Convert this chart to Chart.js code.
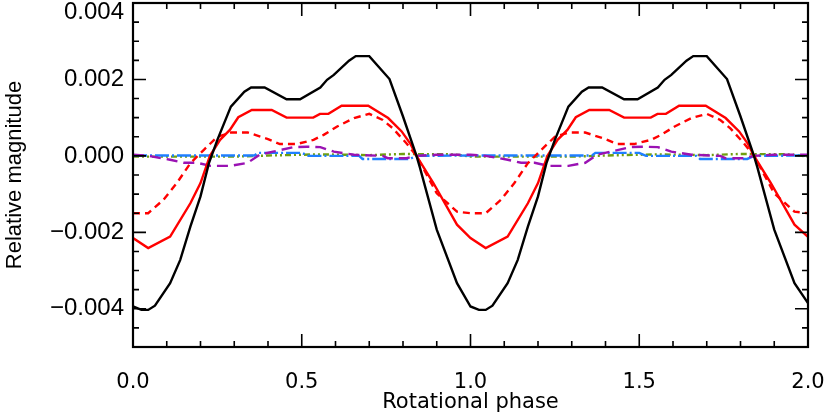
<!DOCTYPE html>
<html>
<head>
<meta charset="utf-8">
<script src="https://cdn.jsdelivr.net/npm/chart.js@4.4.1/dist/chart.umd.min.js"></script>
<style>
html, body { margin: 0; padding: 0; background: #fff; }
#wrap { width: 830px; height: 415px; }
</style>
</head>
<body>
<div id="wrap"><canvas id="light-curve"></canvas></div>
<script>
// Light curve data (phase, relative magnitude)
var blackPhase = [0, 0.025, 0.045, 0.065, 0.11, 0.14, 0.17, 0.2, 0.225, 0.25, 0.29, 0.33, 0.35, 0.39, 0.455, 0.495, 0.555, 0.575, 0.595, 0.64, 0.66, 0.7, 0.76, 0.8, 0.84, 0.85, 0.9, 0.96,
    1.0, 1.025, 1.045, 1.065, 1.11, 1.14, 1.17, 1.2, 1.225, 1.25, 1.29, 1.33, 1.35, 1.39, 1.455, 1.495, 1.555, 1.575, 1.595, 1.64, 1.66, 1.7, 1.76, 1.8, 1.84, 1.85, 1.9, 1.96, 2.0];
var blackMag = [-0.00394, -0.00403, -0.00403, -0.00392, -0.00333, -0.00272, -0.00185, -0.00106, -0.00019, 0.00042, 0.00129, 0.00168, 0.00179, 0.00179, 0.00148, 0.00148, 0.00179, 0.00199, 0.00212, 0.00249, 0.00261, 0.00261, 0.00201, 0.00103, 0.0, -0.0003, -0.00193, -0.00333,
    -0.00394, -0.00403, -0.00403, -0.00392, -0.00333, -0.00272, -0.00185, -0.00106, -0.00019, 0.00042, 0.00129, 0.00168, 0.00179, 0.00179, 0.00148, 0.00148, 0.00179, 0.00199, 0.00212, 0.00249, 0.00261, 0.00261, 0.00201, 0.00103, 0.0, -0.0003, -0.00193, -0.00333, -0.00385];

var redPhase = [0, 0.045, 0.11, 0.17, 0.2, 0.228, 0.258, 0.287, 0.312, 0.352, 0.411, 0.455, 0.534, 0.554, 0.579, 0.618, 0.697, 0.756, 0.796, 0.821, 0.84, 0.89, 0.96,
    1.0, 1.045, 1.11, 1.17, 1.2, 1.228, 1.258, 1.287, 1.312, 1.352, 1.411, 1.455, 1.534, 1.554, 1.579, 1.618, 1.697, 1.756, 1.796, 1.821, 1.84, 1.89, 1.96, 2.0];
var redMag = [-0.00215, -0.00241, -0.00211, -0.00124, -0.00071, 0.0, 0.00042, 0.00068, 0.00101, 0.0012, 0.0012, 0.001, 0.001, 0.0011, 0.0011, 0.00131, 0.00131, 0.00099, 0.00064, 0.00033, 0.0, -0.00071, -0.0018,
    -0.00215, -0.00241, -0.00211, -0.00124, -0.00071, 0.0, 0.00042, 0.00068, 0.00101, 0.0012, 0.0012, 0.001, 0.001, 0.0011, 0.0011, 0.00131, 0.00131, 0.00099, 0.00064, 0.00033, 0.0, -0.00071, -0.0018, -0.00212];

var redDashPhase = [0, 0.045, 0.09, 0.13, 0.17, 0.21, 0.25, 0.29, 0.34, 0.4, 0.435, 0.485, 0.535, 0.565, 0.605, 0.655, 0.7, 0.74, 0.77, 0.81, 0.84, 0.9, 0.96,
    1.0, 1.045, 1.09, 1.13, 1.17, 1.21, 1.25, 1.29, 1.34, 1.4, 1.435, 1.485, 1.535, 1.565, 1.605, 1.655, 1.7, 1.74, 1.77, 1.81, 1.84, 1.9, 1.96, 2.0];
var redDashMag = [-0.0015, -0.0015, -0.00115, -0.00071, -0.00019, 0.00016, 0.0005, 0.00061, 0.00061, 0.00044, 0.00031, 0.00031, 0.00042, 0.00055, 0.00077, 0.00099, 0.0011, 0.00094, 0.00072, 0.00033, 0.0, -0.00098, -0.00146,
    -0.0015, -0.0015, -0.00115, -0.00071, -0.00019, 0.00016, 0.0005, 0.00061, 0.00061, 0.00044, 0.00031, 0.00031, 0.00042, 0.00055, 0.00077, 0.00099, 0.0011, 0.00094, 0.00072, 0.00033, 0.0, -0.00098, -0.00146, -0.0015];

var purplePhase = [0, 0.045, 0.11, 0.15, 0.19, 0.23, 0.29, 0.34, 0.375, 0.415, 0.475, 0.515, 0.555, 0.595, 0.655, 0.74, 0.755, 0.81, 0.84, 0.9,
    1.0, 1.045, 1.11, 1.15, 1.19, 1.23, 1.29, 1.34, 1.375, 1.415, 1.475, 1.515, 1.555, 1.595, 1.655, 1.74, 1.755, 1.81, 1.84, 1.9, 2.0];
var purpleMag = [0.00003, 0.0, -0.0001, -0.00018, -0.00018, -0.00026, -0.00026, -0.00018, 0.00003, 0.00011, 0.00023, 0.00024, 0.00023, 0.00011, 0.00003, 0.0, -0.00006, -0.00006, 0.0, 0.00003,
    0.00003, 0.0, -0.0001, -0.00018, -0.00018, -0.00026, -0.00026, -0.00018, 0.00003, 0.00011, 0.00023, 0.00024, 0.00023, 0.00011, 0.00003, 0.0, -0.00006, -0.00006, 0.0, 0.00003, 0.00003];

var bluePhase = [0, 0.36, 0.37, 0.5, 0.52, 0.67, 0.68, 0.82, 0.84, 1.0, 1.36, 1.37, 1.5, 1.52, 1.67, 1.68, 1.82, 1.84, 2.0];
var blueMag = [0.00001, 0.00001, 0.00008, 0.00008, 0.0, 0.0, -0.00008, -0.00008, 0.0, 0.00001, 0.00001, 0.00008, 0.00008, 0.0, 0.0, -0.00008, -0.00008, 0.0, 0.00001];

var greenPhase = [0, 0.3, 0.4, 0.55, 0.7, 0.8, 0.95, 1.0, 1.3, 1.4, 1.55, 1.7, 1.8, 1.95, 2.0];
var greenMag = [-0.00002, -0.00002, 0.00001, 0.00004, 0.00002, 0.00005, 0.00004, -0.00002, -0.00002, 0.00001, 0.00004, 0.00002, 0.00005, 0.00004, -0.00002];

var yLabelStep = 0.002;
var xLabelStep = 0.5;

function points(phase, mag) {
    return phase.map(function (p, i) {
        return { x: p, y: mag[i] };
    });
}

function isMultiple(v, step) {
    var r = v / step;
    return Math.abs(r - Math.round(r)) < 1e-6;
}

function series(label, phase, mag, color, dash) {
    return {
        label: label,
        data: points(phase, mag),
        borderColor: color,
        borderWidth: 2.4,
        borderDash: dash,
        pointRadius: 0,
        tension: 0,
        fill: false,
    };
}

// frame with inward ticks on all four sides, like the original plot
var frameTicks = {
    id: 'frameTicks',
    afterDraw: function (chart) {
        var ctx = chart.ctx;
        var area = chart.chartArea;
        var xs = chart.scales.x;
        var ys = chart.scales.y;
        ctx.save();
        ctx.strokeStyle = '#000';
        ctx.lineWidth = 1.6;
        ctx.beginPath();
        xs.ticks.forEach(function (t) {
            var px = xs.getPixelForValue(t.value);
            var len = isMultiple(t.value, xLabelStep) ? 13 : 6;
            ctx.moveTo(px, area.bottom);
            ctx.lineTo(px, area.bottom - len);
            ctx.moveTo(px, area.top);
            ctx.lineTo(px, area.top + len);
        });
        ys.ticks.forEach(function (t) {
            var py = ys.getPixelForValue(t.value);
            var len = isMultiple(t.value, yLabelStep) ? 13 : 6;
            ctx.moveTo(area.left, py);
            ctx.lineTo(area.left + len, py);
            ctx.moveTo(area.right, py);
            ctx.lineTo(area.right - len, py);
        });
        ctx.stroke();
        ctx.lineWidth = 2.2;
        ctx.strokeRect(area.left, area.top, area.right - area.left, area.bottom - area.top);
        ctx.restore();
    },
};

var ctx = document.getElementById('light-curve').getContext('2d');
var data = {
    datasets: [
        series('total', blackPhase, blackMag, '#000000', []),
        series('red', redPhase, redMag, '#ff0000', []),
        series('red dashed', redDashPhase, redDashMag, '#ff0000', [7, 5]),
        series('purple', purplePhase, purpleMag, '#9a12b3', [11, 6]),
        series('blue', bluePhase, blueMag, '#1f7fff', [14, 3, 2, 3]),
        series('green', greenPhase, greenMag, '#6f9f0f', [6, 3, 2, 3, 2, 3]),
    ],
};

var options = {
    responsive: true,
    maintainAspectRatio: false,
    animation: false,
    layout: {
        padding: { top: 3, right: 22, left: 0, bottom: 0 },
    },
    plugins: {
        legend: { display: false },
        tooltip: { enabled: false },
    },
    scales: {
        x: {
            type: 'linear',
            min: 0,
            max: 2,
            grid: { drawOnChartArea: false, drawTicks: false },
            border: { display: false },
            ticks: {
                stepSize: 0.1,
                autoSkip: false,
                maxRotation: 0,
                padding: 23,
                color: '#000',
                font: { family: 'DejaVu Sans', size: 21 },
                callback: function (v) {
                    return isMultiple(v, xLabelStep) ? v.toFixed(1) : '';
                },
            },
            title: {
                display: true,
                text: 'Rotational phase',
                color: '#000',
                font: { family: 'DejaVu Sans', size: 21 },
                padding: { top: 0, bottom: 0 },
            },
            afterFit: function (scale) {
                scale.height = 68;
                scale.paddingLeft = 0;
                scale.paddingRight = 0;
            },
        },
        y: {
            min: -0.005,
            max: 0.004,
            grid: { drawOnChartArea: false, drawTicks: false },
            border: { display: false },
            ticks: {
                stepSize: 0.0005,
                autoSkip: false,
                padding: 9,
                color: '#000',
                font: { family: 'Liberation Sans', size: 24, lineHeight: 0.8 },
                callback: function (v) {
                    if (!isMultiple(v, yLabelStep)) return '';
                    var s = Math.abs(v).toFixed(3);
                    if (v < -1e-9) s = '\u2212' + s;
                    // top label sits a little below the frame edge
                    if (v > 0.0039) return ['', s];
                    return s;
                },
            },
            title: {
                display: true,
                text: 'Relative magnitude',
                color: '#000',
                font: { family: 'Liberation Sans', size: 22 },
                padding: { top: 2, bottom: 0 },
            },
            afterFit: function (scale) {
                scale.width = 133;
                scale.paddingTop = 0;
                scale.paddingBottom = 0;
            },
        },
    },
};

var lightCurve = new Chart(ctx, {
    type: 'line',
    data: data,
    options: options,
    plugins: [frameTicks],
});
</script>
</body>
</html>
